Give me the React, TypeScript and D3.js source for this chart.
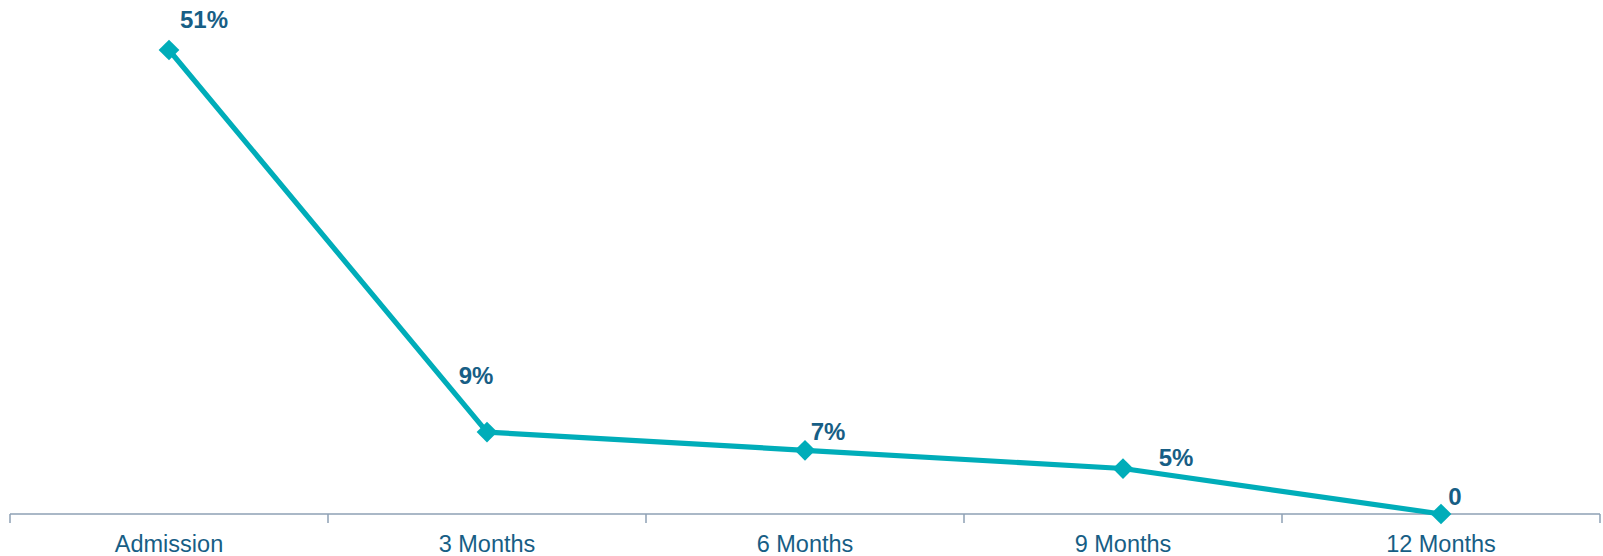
import React from "react";
import * as d3 from "d3";

const categories = ["Admission", "3 Months", "6 Months", "9 Months", "12 Months"];
const values = [51, 9, 7, 5, 0];
const valueLabels = ["51%", "9%", "7%", "5%", "0"];
// label offsets relative to the point (styling)
const labelDx = [35, -11, 23, 53, 14];
const labelDy = [-22, -48, -10, -3, -9];

const W = 1603;
const H = 556;
const axisY = 514;

export default function App() {
  const x = d3.scaleBand<string>().domain(categories).range([10, 1600]).paddingInner(0).paddingOuter(0);
  const y = d3.scaleLinear().domain([0, 51]).range([axisY, 50]);
  const cx = (c: string) => (x(c) as number) + x.bandwidth() / 2;
  const line = d3
    .line<number>()
    .x((_, i) => cx(categories[i]))
    .y((v) => y(v));
  const diamond = d3.symbol().type(d3.symbolSquare).size(215)();
  const tickXs = [...categories.map((c) => x(c) as number), 1600];
  const lineColor = "#00adb9";
  const textColor = "#175e85";
  return (
    <svg
      width={W}
      height={H}
      style={{ position: "absolute", left: 0, top: 0, background: "#fff" }}
      fontFamily="'Liberation Sans', Arial, sans-serif"
    >
      <line x1={10} x2={1600} y1={axisY} y2={axisY} stroke="#8ea0b4" strokeWidth={1.5} />
      {tickXs.map((tx, i) => (
        <line key={i} x1={tx} x2={tx} y1={axisY} y2={axisY + 9} stroke="#8ea0b4" strokeWidth={1.5} />
      ))}
      {categories.map((c) => (
        <text key={c} x={cx(c)} y={552} textAnchor="middle" fontSize={23.5} fill={textColor}>
          {c}
        </text>
      ))}
      <path d={line(values) || ""} fill="none" stroke={lineColor} strokeWidth={5.2} strokeLinejoin="round" />
      {values.map((v, i) => (
        <path
          key={i}
          d={diamond || ""}
          transform={`translate(${cx(categories[i])},${y(v)}) rotate(45)`}
          fill={lineColor}
        />
      ))}
      {values.map((v, i) => (
        <text
          key={i}
          x={cx(categories[i]) + labelDx[i]}
          y={y(v) + labelDy[i]}
          textAnchor="middle"
          fontSize={24}
          fontWeight="bold"
          fill={textColor}
        >
          {valueLabels[i]}
        </text>
      ))}
    </svg>
  );
}
